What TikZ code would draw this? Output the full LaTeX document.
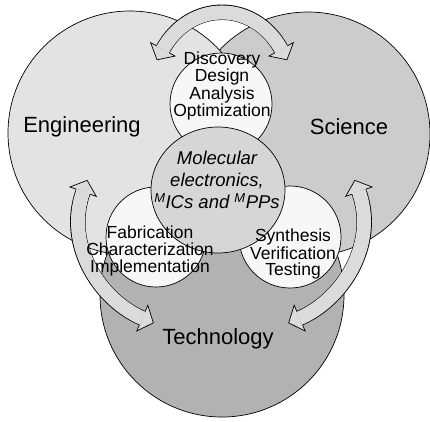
\documentclass[tikz,border=0pt]{standalone}
\usepackage{fontspec}
\setmainfont{Liberation Sans}
\usetikzlibrary{shapes.geometric}

\definecolor{enggray}{gray}{0.89}
\definecolor{scigray}{gray}{0.80}
\definecolor{techgray}{gray}{0.70}
\definecolor{coregray}{gray}{0.84}
\definecolor{stagegray}{gray}{0.97}
\definecolor{arrowgray}{gray}{0.86}

\tikzset{
	field/.style={circle, draw, line width=0.7pt, inner sep=0pt, minimum size=244pt},
	stage/.style={circle, draw, fill=stagegray, line width=0.7pt, inner sep=0pt, minimum size=#1},
	fieldlabel/.style={font=\fontsize{22}{26}\selectfont},
	stagetext/.style={align=center, font=\fontsize{17.5}{#1}\selectfont},
	head/.style={isosceles triangle, isosceles triangle stretches, minimum height=12pt,
		minimum width=28pt, inner sep=0pt, fill=arrowgray, draw, line width=0.7pt,
		anchor=lower side, sloped, allow upside down},
}

\begin{document}
\begin{tikzpicture}[x=1pt, y=-1pt]
	\useasboundingbox (0,0) rectangle (430,421);

	% the three fields
	\node[field, fill=techgray] (tech) at (222,295) {};
	\node[field, fill=scigray] (sci) at (308,134) {};
	\node[field, fill=enggray] (eng) at (130,133) {};

	% activities between the fields
	\node[stage=102pt] (design) at (221,104) {};
	\node[stage=100pt] (fab) at (156,237) {};
	\node[stage=102pt] (synth) at (290,237) {};
	\node[ellipse, draw, fill=coregray, line width=0.7pt, inner sep=0pt,
		minimum width=134pt, minimum height=126pt] (core) at (218,190) {};

	% arrow ends
	\coordinate (es1) at (163,49);
	\coordinate (es2) at (281,49);
	\coordinate (et1) at (83,192);
	\coordinate (et2) at (142,318);
	\coordinate (st1) at (359,192);
	\coordinate (st2) at (300,318);

	% double block arrows: outline, heads, then the grey band on top
	\foreach \a/\ca/\cb/\b in {es1/{(190,0)}/{(254,0)}/es2,
		et1/{(64,245)}/{(100,300)}/et2, st1/{(378,245)}/{(342,300)}/st2} {
		\draw[line width=15.4pt] (\a) .. controls \ca and \cb .. (\b);
		\path (\a) .. controls \ca and \cb .. (\b)
			node[head, pos=0, shape border rotate=180] (\a tip) {}
			node[head, pos=1] (\b tip) {};
		\draw[line width=14pt, arrowgray, shorten <=-1pt, shorten >=-1pt]
			(\a) .. controls \ca and \cb .. (\b);
	}

	% labels
	\node[fieldlabel] (englabel) at (82,127) {Engineering};
	\node[fieldlabel] (scilabel) at (349,127) {Science};
	\node[fieldlabel] (techlabel) at (218,339) {Technology};

	\node[stagetext=14.4] (designtext) at (222,86) {Discovery\\Design\\Analysis\\Optimization};
	\node[stagetext=17] (fabtext) at (150,251) {Fabrication\\Characterization\\Implementation};
	\node[stagetext=16] (synthtext) at (293,254) {Synthesis\\Verification\\Testing};
	\node[align=center, font=\itshape\fontsize{18.5}{21.7}\selectfont] (coretext) at (217,180)
		{Molecular\\electronics,\\\textsuperscript{M}ICs and \textsuperscript{M}PPs};
\end{tikzpicture}
\end{document}
